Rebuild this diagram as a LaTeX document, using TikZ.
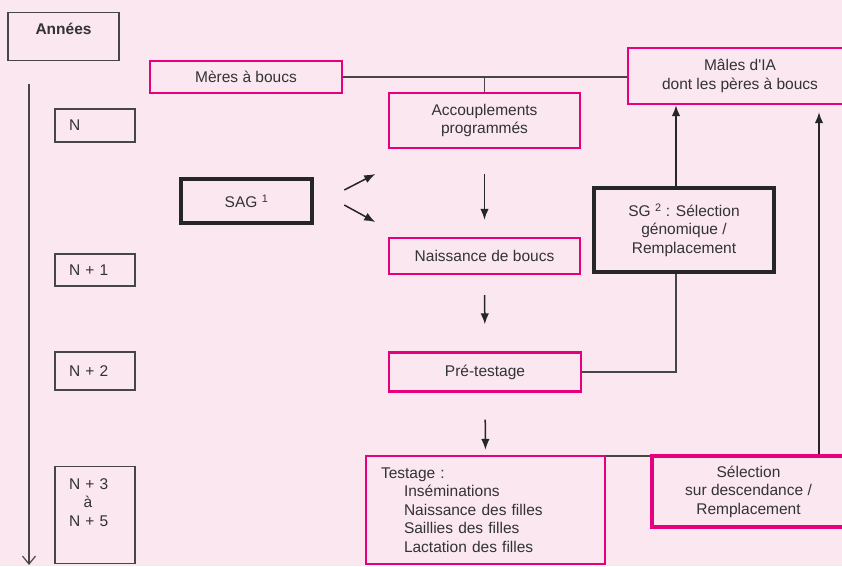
\documentclass[tikz,border=0pt]{standalone}
\usepackage{fontspec}
\setmainfont{Liberation Sans}
\usetikzlibrary{arrows.meta,positioning,calc}
\definecolor{fondrose}{RGB}{250,231,239}
\definecolor{magenta}{RGB}{230,0,126}
\definecolor{gristexte}{RGB}{51,51,51}
\definecolor{griscadre}{RGB}{70,70,70}

\begin{document}
\begin{tikzpicture}[
    x=1pt, y=-1pt,
    font=\fontsize{15.5}{18.5}\selectfont,
    text=gristexte,
    annee/.style={draw=griscadre, line width=1.2pt, minimum width=80pt, text width=52pt, inner xsep=14pt, align=left},
    etape/.style={draw=magenta, line width=2.4pt, align=center, inner sep=0pt},
    fort/.style={draw=magenta, line width=4.5pt, align=center, inner sep=0pt},
    selbox/.style={draw=black!85, line width=4.5pt, align=center, inner sep=0pt},
    lien/.style={draw=griscadre, line width=1.3pt},
    fleche/.style={-{Latex[length=11pt,width=8.5pt]}, line width=1.5pt, black!85}
]
% fond et cadre
\fill[fondrose] (0,0) rectangle (842,566);
\clip (0,0) rectangle (842,566);

% colonne des annees
\node[draw=griscadre, line width=1.2pt, minimum width=111pt, inner ysep=0pt, text height=22pt, text depth=26pt, font=\fontsize{15.5}{18.5}\selectfont\bfseries] (annees) at (63.5,12) [anchor=north] {Années};
\node[annee, minimum height=33pt] (anN) at (95,125.5) {N};
\node[annee, minimum height=32pt] (anN1) at (95,270) {N + 1};
\node[annee, minimum height=38pt] (anN2) at (95,371) {N + 2};
\node[annee, anchor=north, inner ysep=12pt] (anN3) at (95,466)
  {\parbox[t][73pt][t]{52pt}{N + 3\\\makebox[38pt]{à}\\N + 5}};
\coordinate (tHaut) at (29,84);
\coordinate (tBas) at (29,565);
\draw[griscadre, line width=1.2pt, -{Straight Barb[length=8pt,width=13pt]}] (tHaut) -- (tBas);

% schema
\node[etape, minimum width=192pt, minimum height=32pt] (meres) at (246,77) {Mères à boucs};
\node[etape, minimum width=191pt, minimum height=55pt] (accoup) at (484.5,120.5) {Accouplements\\programmés};
\node[etape, minimum width=224pt, minimum height=56pt] (males) at (740,76) {Mâles d\textquotesingle IA\\dont les pères à boucs};
\node[selbox, minimum width=131pt, minimum height=44pt] (sag) at (246.5,201) {SAG \textsuperscript{1}};
\node[etape, minimum width=191pt, minimum height=36pt] (naiss) at (484.5,256) {Naissance de boucs};
\node[selbox, minimum width=180pt, minimum height=84pt] (sg) at (684,230) {SG \textsuperscript{2} : Sélection\\génomique /\\Remplacement};
\node[etape, minimum width=192pt, minimum height=39pt] (pretest) at (485,372) {Pré-testage};
\node[etape, minimum width=239pt, minimum height=108pt, text width=209pt, inner xsep=15pt, align=left] (testage) at (485.5,510)
  {Testage :\\\hspace*{23pt}Inséminations\\\hspace*{23pt}Naissance des filles\\\hspace*{23pt}Saillies des filles\\\hspace*{23pt}Lactation des filles};
\node[fort, minimum width=193pt, minimum height=71pt] (selec) at (748.5,491.5) {Sélection\\sur descendance /\\Remplacement};

% liaisons
\draw[lien] (meres.east) -- (meres.east -| males.west);
\draw[lien] (accoup.north) -- (accoup.north |- meres.east);
\draw[lien] (pretest.east) -| ([xshift=-8pt]sg.south);
\draw[lien] ([yshift=-1.2pt]testage.north east) -- ([yshift=-1.2pt]testage.north east -| selec.west);

% fleches
\coordinate (sagA) at ($(sag.east)+(30,-11)$);
\coordinate (sagB) at ($(sag.east)+(61,-27)$);
\coordinate (sagC) at ($(sag.east)+(30,4)$);
\coordinate (sagD) at ($(sag.east)+(61,21)$);
\draw[fleche] (sagA) -- (sagB);
\draw[fleche] (sagC) -- (sagD);
\foreach \a/\b/\s/\e in {accoup/naiss/25/17, naiss/pretest/20/27, pretest/testage/27/5}
  \draw[fleche, shorten <=\s pt, shorten >=\e pt] (\a.south) -- (\b.north);
\draw[fleche] ([xshift=-8pt]sg.north) -- ([xshift=-8pt]sg.north |- males.south);
\draw[fleche, shorten >=7pt] ([xshift=70.5pt]selec.north) -- ([xshift=70.5pt]selec.north |- males.south);
\end{tikzpicture}
\end{document}
